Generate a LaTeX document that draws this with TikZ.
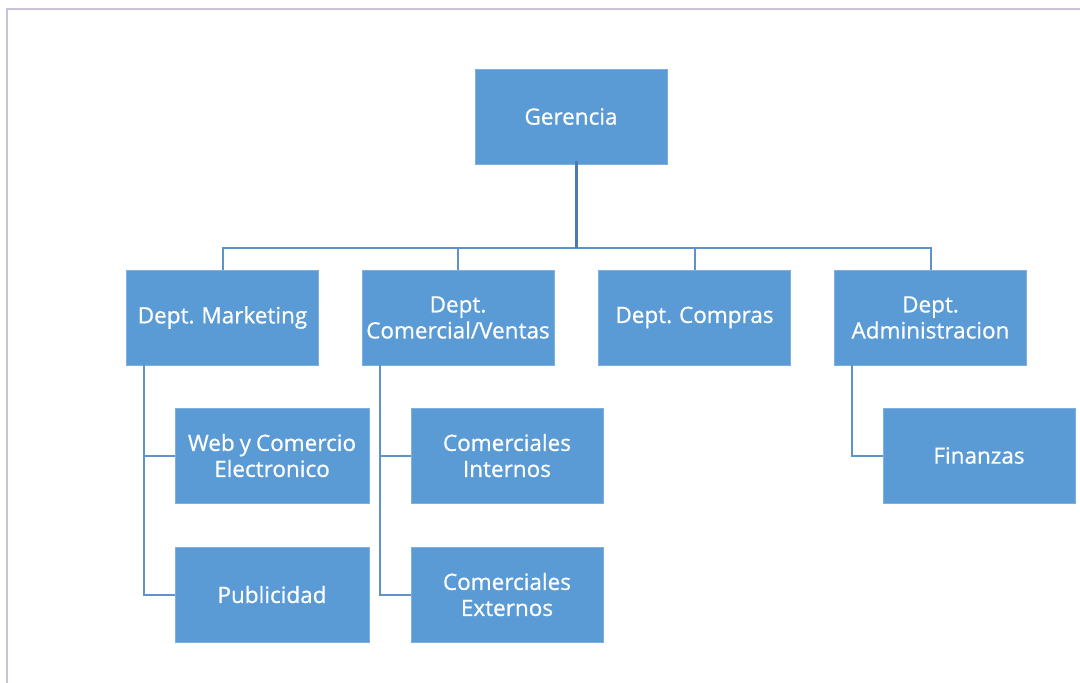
\documentclass[tikz,border=0pt]{standalone}
\usepackage{fontspec}
\setmainfont{Open Sans}
\newfontfamily\boxfont{Open Sans}[FakeBold=0.7,WordSpace=0.85]
\definecolor{boxfill}{HTML}{5B9BD5}
\definecolor{boxline}{HTML}{7DB0E0}
\definecolor{connc}{HTML}{5E93C8}
\definecolor{conndark}{HTML}{4A7BAE}
\definecolor{framec}{HTML}{C9C1DA}
\begin{document}
\begin{tikzpicture}[x=1pt,y=-1pt,
  box/.style={rectangle, fill=boxfill, draw=boxline, line width=0.8pt,
    minimum width=192pt, minimum height=95pt, inner sep=0pt,
    text=white, align=center, font=\boxfont\fontsize{22.5}{26}\selectfont},
  conn/.style={draw=connc, line width=2pt},
  trunk/.style={draw=conndark, line width=3pt}]
\useasboundingbox (0,0) rectangle (1080,683);
\draw[framec, line width=2pt] (7,683) -- (7,8.5) -- (1080,8.5);
% nodes
\node[box] (ger) at (571,116.5) {Gerencia};
\node[box] (mkt) at (222.5,317.5) {Dept. Marketing};
\node[box] (com) at (458,317.5) {Dept.\\Comercial/Ventas};
\node[box] (cpr) at (694.5,317.5) {Dept. Compras};
\node[box] (adm) at (930.5,317.5) {Dept.\\Administracion};
\node[box, minimum width=194pt] (web) at (272,455.5) {Web y Comercio\\Electronico};
\node[box, minimum width=194pt] (pub) at (272,594.5) {Publicidad};
\node[box] (cin) at (507,455.5) {Comerciales\\Internos};
\node[box] (cex) at (507,594.5) {Comerciales\\Externos};
\node[box] (fin) at (979,455.5) {Finanzas};
% connectors
\coordinate (hb) at (576,248);
\draw[conn] (mkt.north) |- (hb -| adm.north) -- (adm.north);
\draw[conn] (com.north) -- (com.north |- hb);
\draw[conn] (cpr.north) -- (cpr.north |- hb);
\draw[trunk] ([xshift=5pt,yshift=3pt]ger.south) -- (hb);
\draw[conn] ([xshift=18pt]mkt.south west) |- (pub.west);
\draw[conn] ([xshift=18pt]mkt.south west |- web.west) -- (web.west);
\draw[conn] ([xshift=18.5pt]com.south west) |- (cex.west);
\draw[conn] ([xshift=18.5pt]com.south west |- cin.west) -- (cin.west);
\draw[conn] ([xshift=18pt]adm.south west) |- (fin.west);
\end{tikzpicture}
\end{document}
